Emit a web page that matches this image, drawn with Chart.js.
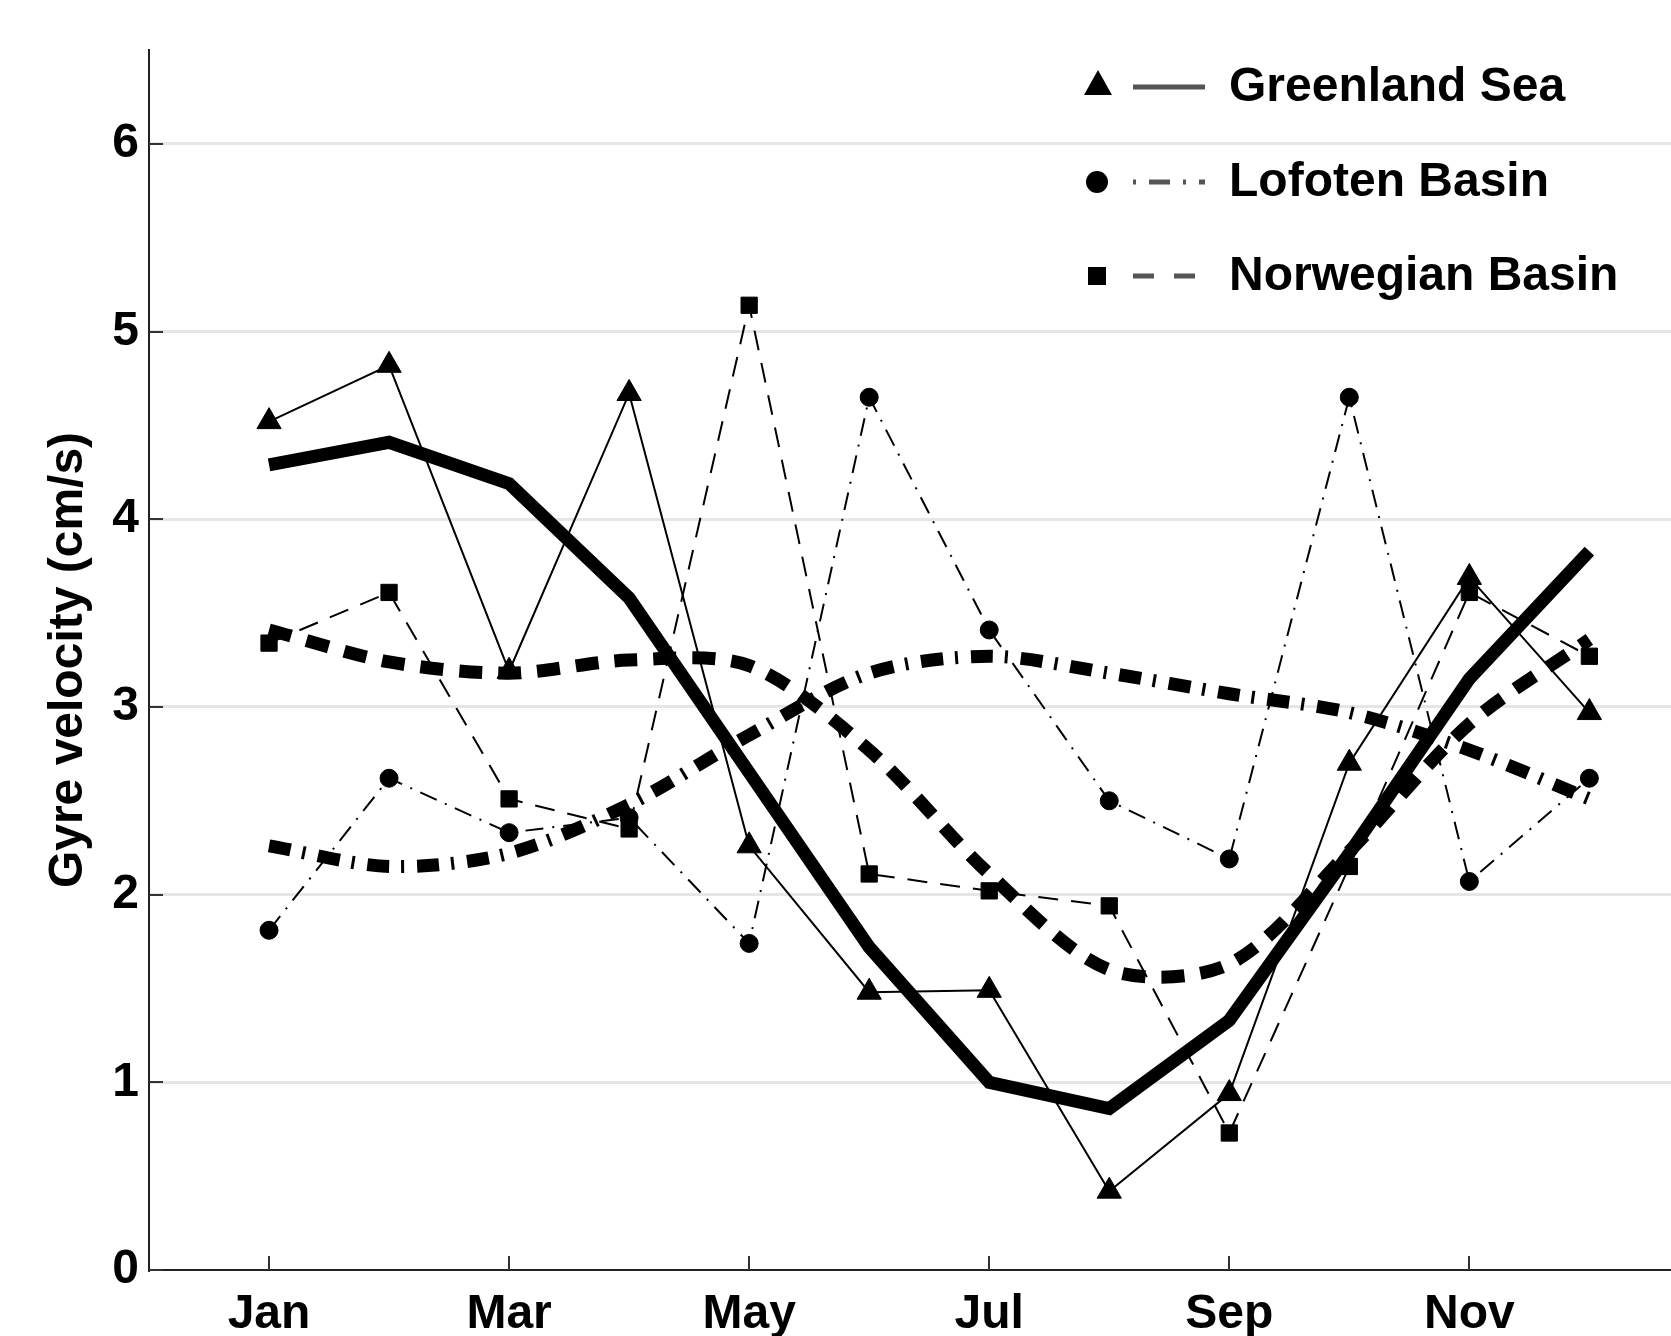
<!DOCTYPE html>
<html>
<head>
<meta charset="utf-8">
<title>Gyre velocity</title>
<script src="https://cdn.jsdelivr.net/npm/chart.js@4.4.0/dist/chart.umd.min.js"></script>
<style>
  html, body { margin: 0; padding: 0; background: #fff; }
  #wrap { width: 1671px; height: 1336px; }
</style>
</head>
<body>
<div id="wrap"><canvas id="gyreChart" width="1671" height="1336"></canvas></div>
<script>
// months on x (Jan = 1)
var months = [1, 2, 3, 4, 5, 6, 7, 8, 9, 10, 11, 12];
var month_labels = ['Jan', 'Feb', 'Mar', 'Apr', 'May', 'Jun', 'Jul', 'Aug', 'Sep', 'Oct', 'Nov', 'Dec'];
var x_tick_months = [1, 3, 5, 7, 9, 11];
var y_tick_values = [0, 1, 2, 3, 4, 5, 6];
var legend_labels = ['Greenland Sea', 'Lofoten Basin', 'Norwegian Basin'];

// thin lines with markers (single year)
var greenland_thin = [4.52, 4.82, 3.19, 4.67, 2.26, 1.48, 1.49, 0.42, 0.94, 2.70, 3.69, 2.97];
var lofoten_thin   = [1.81, 2.62, 2.33, 2.41, 1.74, 4.65, 3.41, 2.50, 2.19, 4.65, 2.07, 2.62];
var norwegian_thin = [3.34, 3.61, 2.51, 2.35, 5.14, 2.11, 2.02, 1.94, 0.73, 2.15, 3.61, 3.27];

// thick lines (mean)
var greenland_thick = [4.29, 4.41, 4.19, 3.58, 2.65, 1.72, 1.00, 0.86, 1.33, 2.22, 3.15, 3.83];
var lofoten_thick   = [2.26, 2.15, 2.22, 2.48, 2.85, 3.18, 3.27, 3.18, 3.07, 2.97, 2.77, 2.51];
var norwegian_thick = [3.41, 3.24, 3.18, 3.25, 3.22, 2.77, 2.11, 1.60, 1.63, 2.23, 2.91, 3.36];

var FONT = '"Liberation Sans", Arial, Helvetica, sans-serif';

function to_points(values) {
  return months.map(function (m, i) { return { x: m, y: values[i] }; });
}

// tick marks drawn inside the plot, plus the legend with marker + line sample
var insideTicks = {
  id: 'insideTicks',
  afterDatasetsDraw: function (chart) {
    var ctx = chart.ctx, area = chart.chartArea;
    var xs = chart.scales.x, ys = chart.scales.y;
    ctx.save();
    ctx.strokeStyle = '#333';
    ctx.lineWidth = 2;
    y_tick_values.forEach(function (v) {
      var py = Math.round(ys.getPixelForValue(v));
      ctx.beginPath();
      ctx.moveTo(area.left, py);
      ctx.lineTo(area.left + 14, py);
      ctx.stroke();
    });
    x_tick_months.forEach(function (m) {
      var px = Math.round(xs.getPixelForValue(m));
      ctx.beginPath();
      ctx.moveTo(px, area.bottom);
      ctx.lineTo(px, area.bottom - 14);
      ctx.stroke();
    });
    ctx.restore();
  },
  afterDraw: function (chart) {
    var ctx = chart.ctx;
    var rows = [
      { y: 87,  style: 'triangle', dash: [] },
      { y: 182, style: 'circle',   dash: [3, 13, 21, 13] },
      { y: 276, style: 'rect',     dash: [21, 20] }
    ];
    ctx.save();
    rows.forEach(function (r, i) {
      // marker
      ctx.fillStyle = '#000';
      ctx.beginPath();
      if (r.style === 'triangle') {
        ctx.moveTo(1098, r.y - 17);
        ctx.lineTo(1112, r.y + 8);
        ctx.lineTo(1084, r.y + 8);
        ctx.closePath();
      } else if (r.style === 'circle') {
        ctx.arc(1097, r.y, 11, 0, Math.PI * 2);
      } else {
        ctx.rect(1088, r.y - 9, 18, 18);
      }
      ctx.fill();
      // line sample
      ctx.strokeStyle = '#555';
      ctx.lineWidth = 5;
      ctx.setLineDash(r.dash);
      ctx.beginPath();
      ctx.moveTo(1133, r.y);
      ctx.lineTo(1205, r.y);
      ctx.stroke();
      ctx.setLineDash([]);
      // label
      ctx.fillStyle = '#000';
      ctx.font = 'bold 48px ' + FONT;
      ctx.textBaseline = 'middle';
      ctx.textAlign = 'left';
      ctx.fillText(legend_labels[i], 1229, r.y + 1);
    });
    ctx.restore();
  }
};

function thin_set(label, values, style, radius, dash) {
  return {
    label: label,
    data: to_points(values),
    borderColor: '#000',
    borderWidth: 2,
    borderDash: dash,
    tension: 0,
    pointStyle: style,
    pointRadius: radius,
    pointHoverRadius: radius,
    pointBackgroundColor: '#000',
    pointBorderColor: '#000',
    pointBorderWidth: 1,
    order: 1
  };
}

function thick_set(label, values, dash, tension) {
  return {
    label: label,
    data: to_points(values),
    borderColor: '#000',
    borderWidth: 13,
    borderDash: dash,
    borderCapStyle: 'butt',
    borderJoinStyle: 'miter',
    tension: tension,
    pointRadius: 0,
    pointHoverRadius: 0,
    order: 0
  };
}

var ctx = document.getElementById('gyreChart').getContext('2d');
var chart = new Chart(ctx, {
  type: 'line',
  data: {
    datasets: [
      thick_set('Greenland Sea mean', greenland_thick, [], 0),
      thick_set('Lofoten Basin mean', lofoten_thick, [22, 12, 3, 13], 0.3),
      thick_set('Norwegian Basin mean', norwegian_thick, [23, 16], 0.3),
      thin_set('Greenland Sea', greenland_thin, 'triangle', 14, []),
      thin_set('Lofoten Basin', lofoten_thin, 'circle', 9, [18, 9, 2, 9]),
      thin_set('Norwegian Basin', norwegian_thin, 'rect', 11.5, [20, 13])
    ]
  },
  options: {
    responsive: false,
    devicePixelRatio: 1,
    animation: false,
    events: [],
    layout: { autoPadding: false, padding: { top: 50, left: 0, right: 0, bottom: 0 } },
    plugins: {
      legend: { display: false },
      tooltip: { enabled: false }
    },
    scales: {
      x: {
        type: 'linear',
        min: 0,
        max: 12.68,
        afterFit: function (s) {
          s.height = 66;
          s.paddingLeft = 0;
          s.paddingRight = 0;
        },
        afterBuildTicks: function (s) {
          s.ticks = x_tick_months.map(function (m) { return { value: m }; });
        },
        ticks: {
          autoSkip: false,
          maxRotation: 0,
          padding: 16,
          color: '#000',
          font: { family: FONT, size: 48, weight: 'bold' },
          callback: function (v) { return month_labels[v - 1]; }
        },
        grid: { drawOnChartArea: false, drawTicks: false },
        border: { display: true, color: '#222', width: 2 }
      },
      y: {
        type: 'linear',
        min: 0,
        max: 6.5,
        afterFit: function (s) {
          s.width = 149;
          s.paddingTop = 0;
          s.paddingBottom = 0;
        },
        afterBuildTicks: function (s) {
          s.ticks = y_tick_values.map(function (v) { return { value: v }; });
        },
        ticks: {
          padding: 10,
          color: '#000',
          font: { family: FONT, size: 48, weight: 'bold' }
        },
        grid: {
          color: function (c) { return c.tick && c.tick.value === 0 ? 'rgba(0,0,0,0)' : '#e6e6e6'; },
          lineWidth: 3,
          drawTicks: false
        },
        border: { display: true, color: '#222', width: 2 },
        title: {
          display: true,
          text: 'Gyre velocity (cm/s)',
          color: '#000',
          padding: { top: 40, bottom: 0 },
          font: { family: FONT, size: 48, weight: 'bold' }
        }
      }
    }
  },
  plugins: [insideTicks]
});
</script>
</body>
</html>
